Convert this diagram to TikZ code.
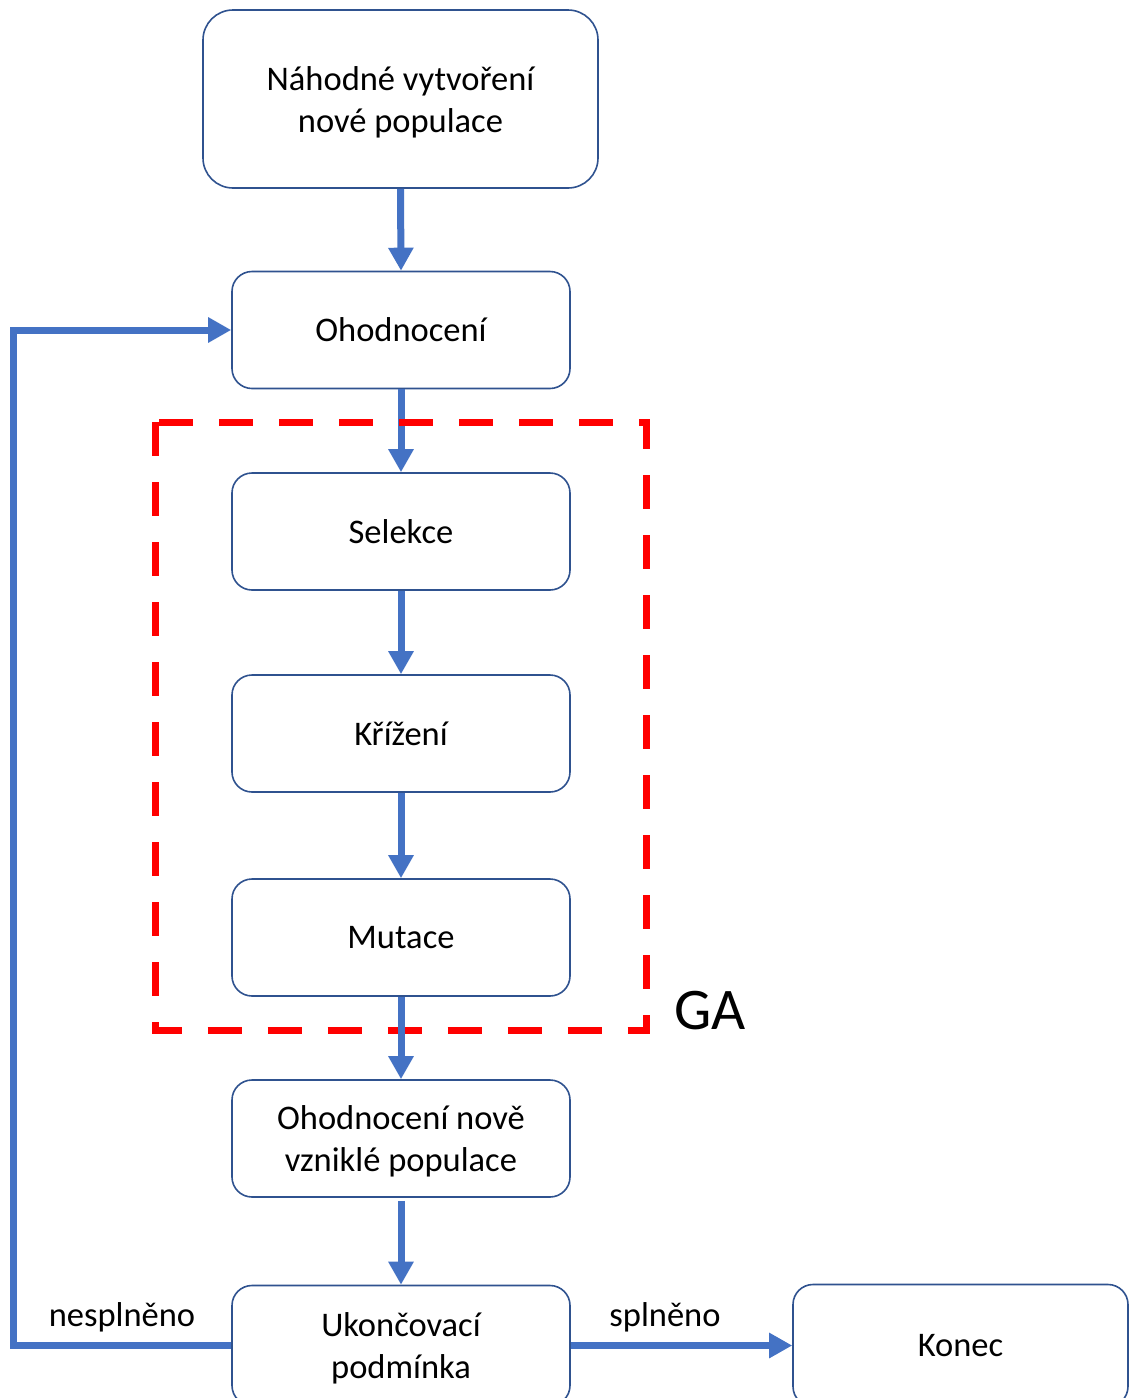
\documentclass[tikz,border=0pt]{standalone}
\usepackage{fontspec}
\setmainfont{Carlito}
\usetikzlibrary{arrows.meta}
\definecolor{arrowblue}{HTML}{4472C4}
\definecolor{boxline}{HTML}{2F528F}
\definecolor{garred}{HTML}{FF0000}
\newcommand{\lowtext}[2]{\raisebox{-3pt}[\height][\depth]{\parbox{#1}{\centering #2}}}
\begin{document}
\begin{tikzpicture}[x=1pt,y=-1pt,
  box/.style={draw=boxline, line width=1.6pt, rounded corners=20pt, fill=white,
    minimum width=338pt, minimum height=117pt, align=center, inner sep=0pt,
    font=\fontsize{34.5}{42}\selectfont},
  flow/.style={draw=arrowblue, line width=7pt, -{Triangle[length=23pt,width=24pt]}},
  lbl/.style={font=\fontsize{34.5}{42}\selectfont, inner sep=0pt},
  gabox/.style={draw=garred, line width=7pt, dash pattern=on 34pt off 26pt}]
\clip (0,0) rectangle (1129,1398);
\fill[white] (0,0) rectangle (1129,1398);

\node[box, minimum width=395pt, minimum height=178pt, rounded corners=30pt] (start) at (400.5,99) {\lowtext{390pt}{Náhodné vytvoření\\nové populace}};
\node[box] (eval) at (401,330) {Ohodnocení};
\node[box] (sel) at (401,531.5) {Selekce};
\node[box] (cross) at (401,733.5) {Křížení};
\node[box] (mut) at (401,937.5) {Mutace};
\node[box] (eval2) at (401,1138.5) {\lowtext{330pt}{Ohodnocení nově\\vzniklé populace}};
\node[box, minimum height=120pt] (term) at (401,1345.5) {\lowtext{330pt}{Ukončovací\\podmínka}};
\node[box, minimum width=335pt, minimum height=122pt] (end) at (960.5,1345.5) {Konec};

\draw[flow] (start.south) -- (eval.north);
\draw[flow] (eval.south) -- (sel.north);
\draw[gabox] (155.5,422) rectangle (646,1030);
\draw[flow] (sel.south) -- (cross.north);
\draw[flow] (cross.south) -- (mut.north);
\draw[flow] (mut.south) -- (eval2.north);
\draw[flow] ([yshift=-3pt]eval2.south) -- (term.north);
\draw[flow] (term.east) -- (end.west);
\coordinate (ct) at (13.5,330);
\draw[flow] (term.west) -| (ct) -- (eval.west);

\node[lbl] (nes) at (122,1317) {nesplněno};
\node[lbl] (spl) at (665,1317) {splněno};
\node[font=\fontsize{59}{70}\selectfont, inner sep=0pt] (ga) at (710,1011) {GA};
\end{tikzpicture}
\end{document}
